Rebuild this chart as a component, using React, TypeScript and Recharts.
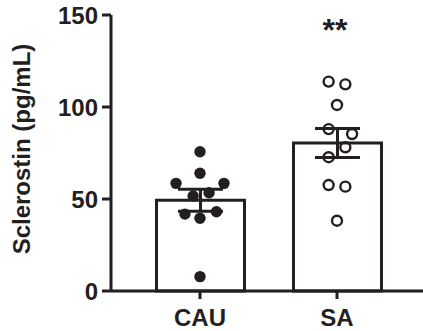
import React from 'react';
import { ComposedChart, Bar, Scatter, XAxis, YAxis, ErrorBar } from 'recharts';

const categories = ['CAU', 'SA'];
const means = [49.3, 80.4];
const sems = [6.0, 7.9];
const cauValues = [75.7, 64, 58.5, 58.5, 53.4, 51.6, 43.1, 41.8, 39.5, 7.8];
const saValues = [113.8, 112.3, 101.1, 88, 85.3, 78.1, 72.7, 57.6, 56.7, 38.2];
// horizontal spread of the dots within each group (fraction of category spacing)
const cauSpread = [0, 0, -0.175, 0.175, 0.066, -0.05, 0.12, -0.11, 0, 0];
const saSpread = [-0.061, 0.061, 0, -0.061, 0.11, 0.061, -0.061, -0.061, 0.061, 0];
const yTicks = [0, 50, 100, 150];
const yLabel = 'Sclerostin (pg/mL)';
const significance = '**';

const INK = '#231f20';
const FONT = '"Liberation Sans", Arial, Helvetica, sans-serif';

const barData = categories.map((name, i) => ({ name, mean: means[i], sem: sems[i] }));
const cauPoints = cauValues.map((v, i) => ({ x: 1 + cauSpread[i], y: v }));
const saPoints = saValues.map((v, i) => ({ x: 2 + saSpread[i], y: v }));

const FilledDot = (p: any) => <circle cx={p.cx} cy={p.cy} r={5.7} fill={INK} />;
const OpenDot = (p: any) => (
  <circle cx={p.cx} cy={p.cy} r={5} fill="none" stroke={INK} strokeWidth={2.4} />
);

const YLabel = (props: any) => {
  const vb = props.viewBox || {};
  const cy = (vb.y || 0) + (vb.height || 0) / 2 - 4;
  const x = 30;
  return (
    <text
      x={x}
      y={cy}
      transform={`rotate(-90, ${x}, ${cy})`}
      textAnchor="middle"
      fontFamily={FONT}
      fontWeight="bold"
      fontSize={24}
      fill={INK}
    >
      {yLabel}
    </text>
  );
};

export default function App() {
  return (
    <div style={{ position: 'absolute', left: 0, top: 0, background: '#fff' }}>
      <ComposedChart
        width={423}
        height={331}
        data={barData}
        margin={{ top: 15, right: 0, bottom: 0, left: 0 }}
      >
        <XAxis
          xAxisId="cat"
          dataKey="name"
          type="category"
          padding={{ left: 20.5, right: 17.5 }}
          height={40}
          tickSize={8}
          tickMargin={10}
          axisLine={{ stroke: INK, strokeWidth: 3 }}
          tickLine={{ stroke: INK, strokeWidth: 3 }}
          tick={{ fill: INK, fontSize: 24, fontWeight: 'bold', fontFamily: FONT }}
        />
        <XAxis
          xAxisId="num"
          type="number"
          dataKey="x"
          domain={[0.5, 2.5]}
          padding={{ left: 20.5, right: 17.5 }}
          hide
        />
        <YAxis
          domain={[0, 150]}
          ticks={yTicks}
          width={111}
          tickSize={9}
          tickMargin={4}
          interval={0}
          axisLine={{ stroke: INK, strokeWidth: 3 }}
          tickLine={{ stroke: INK, strokeWidth: 3 }}
          tick={{ fill: INK, fontSize: 24, fontWeight: 'bold', fontFamily: FONT }}
          label={<YLabel />}
        />
        <Bar
          xAxisId="cat"
          dataKey="mean"
          barSize={88}
          fill="none"
          stroke={INK}
          strokeWidth={3}
          isAnimationActive={false}
        >
          <ErrorBar dataKey="sem" width={22.5} stroke={INK} strokeWidth={3} direction="y" />
        </Bar>
        <Scatter
          xAxisId="num"
          data={cauPoints}
          dataKey="y"
          shape={FilledDot}
          isAnimationActive={false}
        />
        <Scatter
          xAxisId="num"
          data={saPoints}
          dataKey="y"
          shape={OpenDot}
          isAnimationActive={false}
        />
        <Scatter
          xAxisId="num"
          data={[{ x: 2, y: 150, label: significance }]}
          dataKey="y"
          shape={(p: any) => (
            <text x={p.cx - 2} y={p.cy + 26} textAnchor="middle" fontFamily={FONT} fontWeight="bold" fontSize={32} fill={INK}>
              {p.payload.label}
            </text>
          )}
          isAnimationActive={false}
        />
      </ComposedChart>
    </div>
  );
}
